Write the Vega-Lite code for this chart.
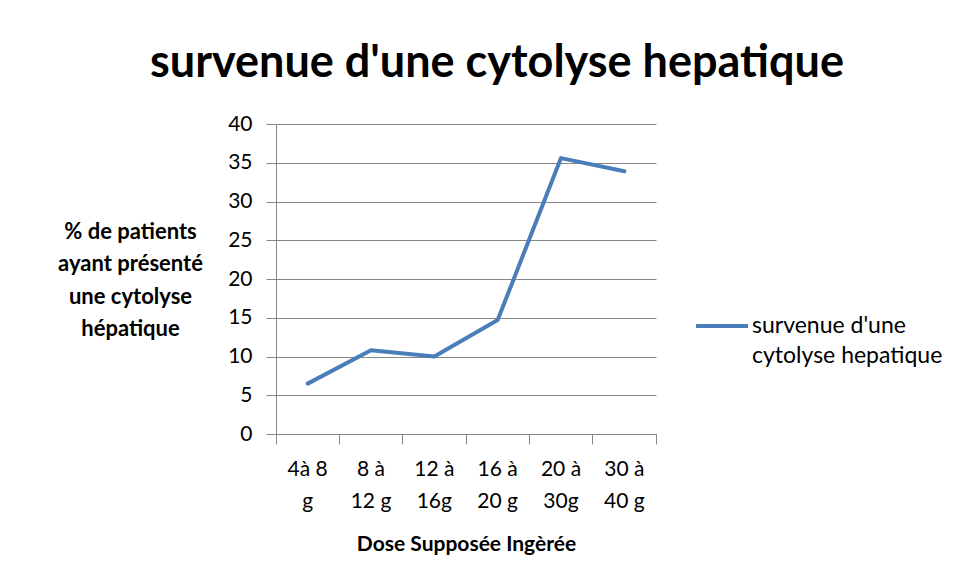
{
  "$schema": "https://vega.github.io/schema/vega-lite/v6.json",
  "width": 380,
  "height": 310,
  "autosize": {"type": "none"},
  "padding": {"left": 276, "top": 124, "right": 316, "bottom": 147},
  "background": "white",
  "config": {
    "font": "Lato",
    "view": {"stroke": null}
  },
  "title": {
    "text": "survenue d'une cytolyse hepatique",
    "font": "Lato",
    "fontSize": 45,
    "fontWeight": "bold",
    "color": "#000000",
    "anchor": "middle",
    "dx": 31,
    "offset": 27
  },
  "data": {
    "values": [
      {"dose": "4à 8 g", "pct": 6.5, "serie": "survenue d'une cytolyse hepatique"},
      {"dose": "8 à 12 g", "pct": 10.8, "serie": "survenue d'une cytolyse hepatique"},
      {"dose": "12 à 16g", "pct": 10.0, "serie": "survenue d'une cytolyse hepatique"},
      {"dose": "16 à 20 g", "pct": 14.7, "serie": "survenue d'une cytolyse hepatique"},
      {"dose": "20 à 30g", "pct": 35.6, "serie": "survenue d'une cytolyse hepatique"},
      {"dose": "30 à 40 g", "pct": 33.9, "serie": "survenue d'une cytolyse hepatique"}
    ]
  },
  "mark": {"type": "line", "strokeWidth": 4, "strokeCap": "round", "strokeJoin": "round"},
  "encoding": {
    "x": {
      "field": "dose",
      "type": "nominal",
      "sort": null,
      "scale": {"type": "band", "paddingInner": 0, "paddingOuter": 0},
      "axis": {
        "title": "Dose Supposée Ingèrée",
        "titleFont": "Lato",
        "titleFontSize": 21,
        "titleFontWeight": "bold",
        "titleColor": "#000000",
        "titlePadding": 22,
        "labelAngle": 0,
        "labelFont": "Lato",
        "labelFontSize": 21,
        "labelColor": "#000000",
        "labelLineHeight": 32,
        "labelPadding": 14,
        "labelExpr": "datum.label == '4à 8 g' ? ['4à 8', 'g'] : [substring(datum.label, 0, indexof(datum.label, 'à') + 1), substring(datum.label, indexof(datum.label, 'à') + 2)]",
        "bandPosition": 1,
        "tickExtra": true,
        "tickSize": 10,
        "tickColor": "#868686",
        "domainColor": "#868686",
        "grid": false
      }
    },
    "y": {
      "field": "pct",
      "type": "quantitative",
      "scale": {"domain": [0, 40], "nice": false},
      "axis": {
        "values": [0, 5, 10, 15, 20, 25, 30, 35, 40],
        "title": ["%   de patients", "ayant présenté", "une cytolyse", "hépatique"],
        "titleAngle": 0,
        "titleAlign": "center",
        "titleBaseline": "top",
        "titleX": -146,
        "titleY": 97,
        "titleLineHeight": 32.5,
        "titleFont": "Lato",
        "titleFontSize": 22,
        "titleFontWeight": "bold",
        "titleColor": "#000000",
        "labelFont": "Lato",
        "labelFontSize": 21,
        "labelColor": "#000000",
        "labelPadding": 14,
        "tickSize": 10,
        "tickColor": "#868686",
        "domainColor": "#868686",
        "grid": true,
        "gridColor": "#868686",
        "gridOpacity": 1
      }
    },
    "color": {
      "field": "serie",
      "type": "nominal",
      "scale": {"range": ["#4A7EBB"]},
      "legend": {
        "title": null,
        "orient": "none",
        "legendX": 418,
        "legendY": 174,
        "symbolType": "stroke",
        "symbolSize": 2700,
        "symbolStrokeWidth": 4,
        "labelFont": "Lato",
        "labelFontSize": 23,
        "labelColor": "#000000",
        "labelLimit": 400,
        "labelBaseline": "middle",
        "labelOffset": 2,
        "labelExpr": "['survenue d\\'une', 'cytolyse hepatique']",
        "encode": {
          "labels": {
            "update": {
              "lineHeight": {"value": 30}
            }
          }
        }
      }
    }
  }
}
